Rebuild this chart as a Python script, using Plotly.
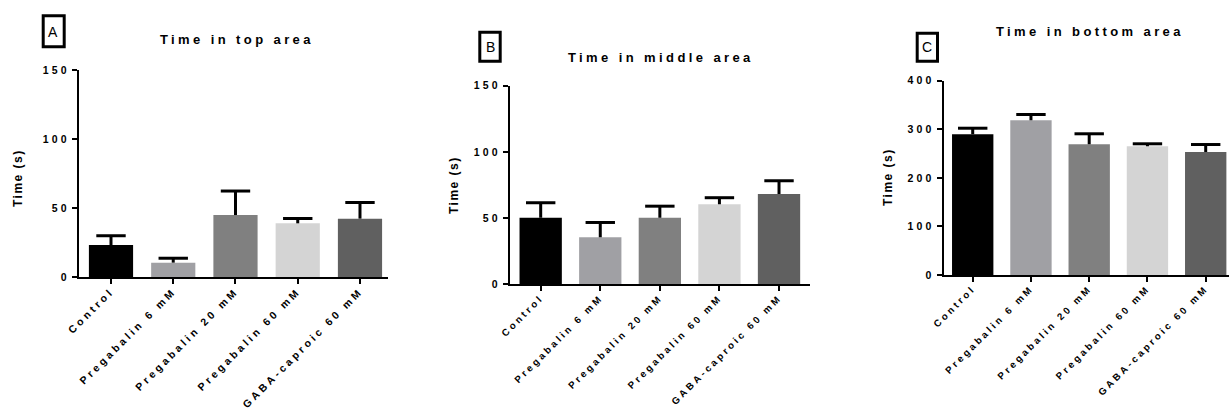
import plotly.graph_objects as go

W, H = 1229, 412

categories = ["Control", "Pregabalin 6 mM", "Pregabalin 20 mM", "Pregabalin 60 mM", "GABA-caproic 60 mM"]
bar_colors = ["#000000", "#a0a0a4", "#808080", "#d4d4d4", "#606060"]

top_mean = [23.2, 10.4, 44.9, 38.9, 42.3]
top_sem = [6.7, 3.2, 17.4, 3.5, 11.7]

middle_mean = [50.3, 35.5, 50.3, 60.4, 68.2]
middle_sem = [11.3, 11.2, 8.7, 5.0, 10.0]

bottom_mean = [289.6, 318.5, 269.0, 265.0, 253.2]
bottom_sem = [12.6, 11.9, 21.7, 5.1, 15.4]

titles = ["Time in top area", "Time in middle area", "Time in bottom area"]
panel_letters = ["A", "B", "C"]
y_title = "Time (s)"
yticks_small = [0, 50, 100, 150]
yticks_large = [0, 100, 200, 300, 400]

FONT = "Liberation Sans, Arial, sans-serif"


def sp(t, s):
    return f'<span style="letter-spacing:{s}px">{t}</span>'


def fx(x):
    return x / W


def fy(y):
    return 1 - y / H


panels = [
    dict(mean=top_mean, sem=top_sem, xd=(79, 388), yd=(277, 70), xr=(-0.514, 4.45), yr=(0, 150), yt=yticks_small,
         title_xy=(237, 40), ytitle_xy=(18, 178), box=(43.2, 15.8, 64.2, 46.8), letter_xy=(53, 32),
         xfont=10.5, xspace=3.2),
    dict(mean=middle_mean, sem=middle_sem, xd=(510, 810), yd=(284.3, 85.7), xr=(-0.515, 4.52), yr=(0, 150), yt=yticks_small,
         title_xy=(661, 58), ytitle_xy=(454, 185), box=(479.8, 32.2, 500.2, 61.2), letter_xy=(490, 47),
         xfont=9.7, xspace=2.9),
    dict(mean=bottom_mean, sem=bottom_sem, xd=(943.7, 1229), yd=(275, 80.7), xr=(-0.498, 4.4), yr=(0, 400), yt=yticks_large,
         title_xy=(1090, 32), ytitle_xy=(888, 177), box=(917.2, 33.2, 937.5, 61.2), letter_xy=(927, 47),
         xfont=9.7, xspace=2.9),
]

fig = go.Figure()
annotations = []
shapes = []

for i, p in enumerate(panels):
    n = "" if i == 0 else str(i + 1)
    xa, ya = "x" + n, "y" + n
    tops = [m + s for m, s in zip(p["mean"], p["sem"])]
    fig.add_trace(go.Bar(
        x=categories, y=p["mean"], width=0.71,
        marker=dict(color=bar_colors, line=dict(width=0)),
        error_y=dict(type="data", symmetric=False, array=p["sem"], arrayminus=[0] * 5,
                     color="black", thickness=3, width=0),
        xaxis=xa, yaxis=ya, showlegend=False, hoverinfo="skip",
    ))
    fig.add_trace(go.Scatter(
        x=categories, y=tops, mode="markers",
        marker=dict(symbol="line-ew", size=21, line=dict(color="black", width=3)),
        xaxis=xa, yaxis=ya, showlegend=False, hoverinfo="skip", cliponaxis=False,
    ))
    axis_common = dict(showline=True, linecolor="black", linewidth=2, ticks="outside", ticklen=5,
                       tickwidth=2, tickcolor="black", showgrid=False, zeroline=False, automargin=False)
    fig.layout["xaxis" + n] = dict(
        domain=[fx(p["xd"][0]), fx(p["xd"][1])], range=list(p["xr"]), anchor=ya,
        tickmode="array", tickvals=categories, ticktext=[sp(c, p["xspace"]) for c in categories],
        tickangle=-45, ticklabelstandoff=-3,
        tickfont=dict(family=FONT, size=p["xfont"], color="black", weight="bold"),
        **axis_common)
    fig.layout["yaxis" + n] = dict(
        domain=[fy(p["yd"][0]), fy(p["yd"][1])], range=list(p["yr"]), anchor=xa,
        tickmode="array", tickvals=p["yt"], ticktext=[sp(str(v), 3.2) for v in p["yt"]],
        tickfont=dict(family=FONT, size=10.5, color="black", weight="bold"),
        **axis_common)
    annotations.append(dict(
        x=fx(p["title_xy"][0]), y=fy(p["title_xy"][1]), xref="paper", yref="paper",
        text=sp(titles[i], 3.4), showarrow=False, xanchor="center", yanchor="middle",
        font=dict(family=FONT, size=13, color="black", weight="bold")))
    annotations.append(dict(
        x=fx(p["ytitle_xy"][0]), y=fy(p["ytitle_xy"][1]), xref="paper", yref="paper",
        text=sp(y_title, 1.5), showarrow=False, xanchor="center", yanchor="middle", textangle=-90,
        font=dict(family=FONT, size=12, color="black", weight="bold")))
    annotations.append(dict(
        x=fx(p["letter_xy"][0]), y=fy(p["letter_xy"][1]), xref="paper", yref="paper",
        text=panel_letters[i], showarrow=False, xanchor="center", yanchor="middle",
        font=dict(family=FONT, size=14, color="black")))
    b = p["box"]
    shapes.append(dict(type="rect", xref="paper", yref="paper",
                       x0=fx(b[0]), x1=fx(b[2]), y0=fy(b[3]), y1=fy(b[1]),
                       line=dict(color="black", width=3), fillcolor="rgba(0,0,0,0)"))

fig.update_layout(
    width=W, height=H, margin=dict(l=0, r=0, t=0, b=0, autoexpand=False),
    paper_bgcolor="white", plot_bgcolor="white", template="none",
    annotations=annotations, shapes=shapes, showlegend=False,
    font=dict(family=FONT, color="black"),
)

fig.write_html(
    "out.html",
    config={"displayModeBar": False},
    post_script="document.body.style.margin='0';document.body.style.overflow='hidden';",
)
